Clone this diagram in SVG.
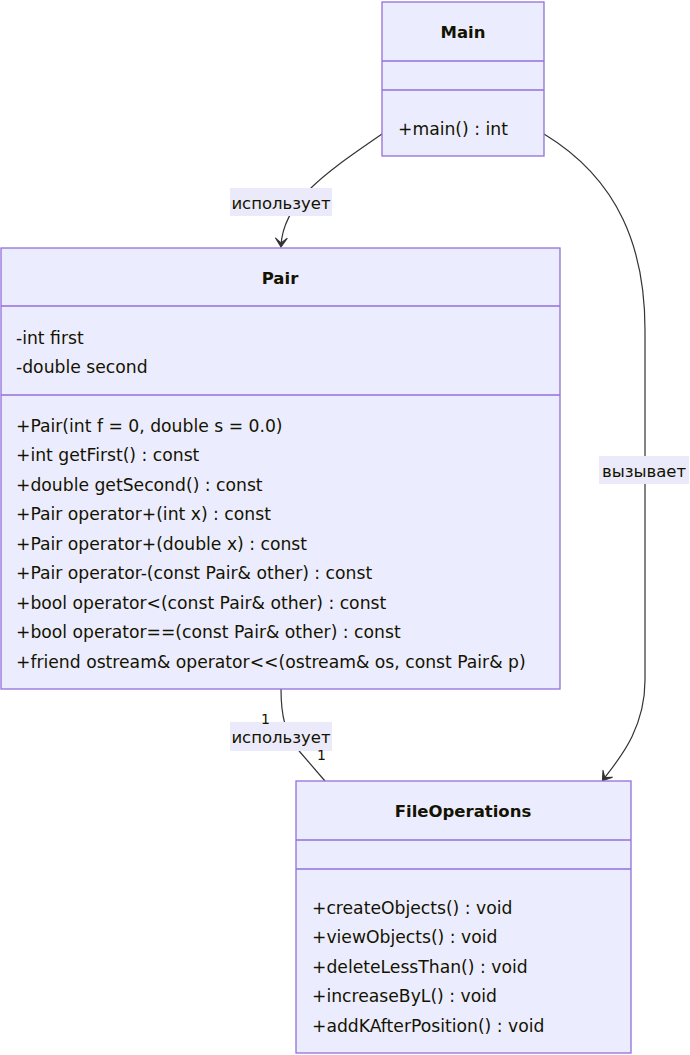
<svg xmlns="http://www.w3.org/2000/svg" width="690" height="1055" viewBox="0 0 690 1055">
<style>
.box{fill:#ECECFF;stroke:#9370DB;stroke-width:1.3}
.div{stroke:#9370DB;stroke-width:1.3}
text{font-family:"DejaVu Sans","Noto Sans",sans-serif;font-size:17.2px;fill:#131300}
.title{font-weight:bold;text-anchor:middle;font-size:16.5px}
.el{font-size:16.5px;text-anchor:middle}
.edge{fill:none;stroke:#333;stroke-width:1.2}
.lbl{fill:#eaeafa}
.card{font-size:14px;fill:#131300}
</style>
<defs>
<marker id="arr" viewBox="0 0 20 14" refX="17" refY="7" markerWidth="20" markerHeight="14" markerUnits="userSpaceOnUse" orient="auto">
<path d="M18,7 L9,13 L14,7 L9,1 Z" fill="#333" stroke="#333" stroke-width="1"/>
</marker>
</defs>
<g id="connectors">
<path class="edge" d="M382,134 C330,170 283,200 281,246" marker-end="url(#arr)"/>
<path class="edge" d="M544,134 C620,180 645,250 645,330 L645,680 C645,730 618,760 603,780" marker-end="url(#arr)"/>
<path class="edge" d="M281,689 C281,715 285,735 300,752 L325,781"/>
<rect class="lbl" x="230" y="188" width="102" height="28"/>
<text class="el" x="281" y="209">использует</text>
<rect class="lbl" x="599" y="456" width="90" height="28"/>
<text class="el" x="644" y="477">вызывает</text>
<rect class="lbl" x="230" y="722" width="102" height="29"/>
<text class="el" x="281" y="743">использует</text>
<text class="card" x="261" y="724">1</text>
<text class="card" x="317" y="760">1</text>
</g>
<g id="Main">
<rect class="box" x="382" y="2" width="162" height="154"/>
<line class="div" x1="382" y1="61" x2="544" y2="61"/>
<line class="div" x1="382" y1="90" x2="544" y2="90"/>
<text class="title" x="463" y="38">Main</text>
<text x="398" y="135">+main() : int</text>
</g>
<g id="Pair">
<rect class="box" x="1" y="248" width="559" height="441"/>
<line class="div" x1="1" y1="306" x2="560" y2="306"/>
<line class="div" x1="1" y1="395" x2="560" y2="395"/>
<text class="title" x="280" y="284">Pair</text>
<text x="16" y="344">-int first</text>
<text x="16" y="373">-double second</text>
<text x="16" y="432">+Pair(int f = 0, double s = 0.0)</text>
<text x="16" y="461">+int getFirst() : const</text>
<text x="16" y="491">+double getSecond() : const</text>
<text x="16" y="520">+Pair operator+(int x) : const</text>
<text x="16" y="550">+Pair operator+(double x) : const</text>
<text x="16" y="579">+Pair operator-(const Pair&amp; other) : const</text>
<text x="16" y="609">+bool operator&lt;(const Pair&amp; other) : const</text>
<text x="16" y="638">+bool operator==(const Pair&amp; other) : const</text>
<text x="16" y="668">+friend ostream&amp; operator&lt;&lt;(ostream&amp; os, const Pair&amp; p)</text>
</g>
<g id="FileOperations">
<rect class="box" x="296" y="781" width="335" height="272"/>
<line class="div" x1="296" y1="840" x2="631" y2="840"/>
<line class="div" x1="296" y1="869" x2="631" y2="869"/>
<text class="title" x="463" y="817">FileOperations</text>
<text x="312" y="914">+createObjects() : void</text>
<text x="312" y="943">+viewObjects() : void</text>
<text x="312" y="973">+deleteLessThan() : void</text>
<text x="312" y="1002">+increaseByL() : void</text>
<text x="312" y="1032">+addKAfterPosition() : void</text>
</g>
</svg>
